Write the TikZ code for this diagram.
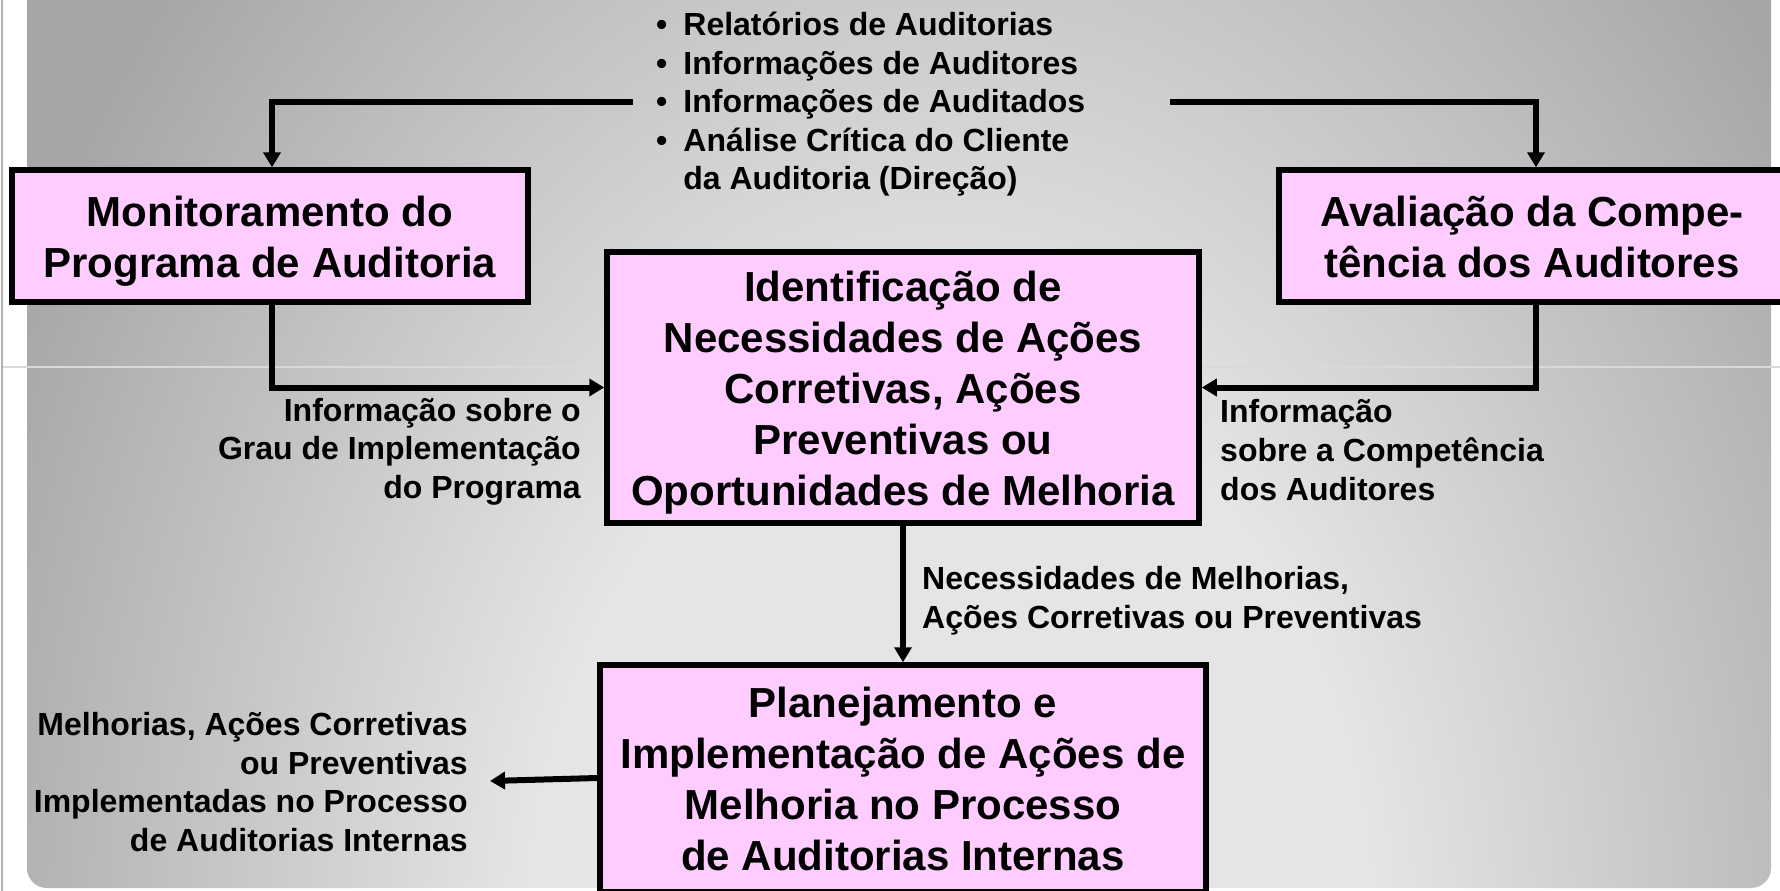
\documentclass[tikz,border=0pt]{standalone}
\usepackage{fontspec}
\setmainfont{Liberation Sans}
\usetikzlibrary{arrows.meta}
\definecolor{boxpink}{RGB}{255,204,255}
\definecolor{bgin}{gray}{0.9}
\definecolor{bgout}{gray}{0.65}
\pgfdeclareradialshading{bgglow}{\pgfpoint{0bp}{0bp}}{color(0bp)=(bgin); color(10bp)=(bgin); color(25bp)=(bgout); color(50bp)=(bgout)}
\newcommand{\hiStrut}{\rule{0pt}{41pt}}
\newcommand{\loStrut}{\rule[-10pt]{0pt}{10pt}}
\tikzset{
  box/.style={draw, line width=5.5pt, fill=boxpink, align=center, inner sep=0pt,
    font=\fontsize{42}{51}\selectfont\bfseries},
  lbl/.style={inner sep=0pt, font=\fontsize{32}{38.6}\selectfont\bfseries},
  arr/.style={line width=6pt, -{Triangle[length=15pt,width=17pt]}}
}
\begin{document}
\begin{tikzpicture}[x=1pt,y=-1pt]
    \useasboundingbox (0,0) rectangle (1780,891);
    \begin{scope}
    \clip [rounded corners=20pt] (27,-40) rectangle (1771,888);
    \shade [shading=bgglow] (-100,-500) rectangle (2000,2400);
    \end{scope}
    \draw [gray!60, line width=2.5pt] (2,0)--(2,891);
    \draw [white!85!black, line width=1.2pt] (3,367)--(1780,367);

    \node [box, minimum width=516pt, minimum height=132pt] (mon) at (270,236) {\hiStrut Monitoramento do\\Programa de Auditoria\loStrut};
    \node [box, minimum width=506pt, minimum height=132pt] (ava) at (1532,236) {\hiStrut Avaliação da Compe-\\tência dos Auditores\loStrut};
    \node [box, minimum width=592pt, minimum height=271pt] (ide) at (903,387.5) {\hiStrut Identificação de\\Necessidades de Ações\\Corretivas, Ações\\Preventivas ou\\Oportunidades de Melhoria\loStrut};
    \node [box, minimum width=606pt, minimum height=227pt] (pla) at (903,778.5) {\hiStrut Planejamento e\\Implementação de Ações de\\Melhoria no Processo\\de Auditorias Internas\loStrut};

    \node [lbl, anchor=west] (fontes) at (656,105) {\begin{tabular}{@{}l@{\hspace{16pt}}l@{}}
        \textbullet & Relatórios de Auditorias\\
        \textbullet & Informações de Auditores\\
        \textbullet & Informações de Auditados\\
        \textbullet & Análise Crítica do Cliente\\
        & da Auditoria (Direção)
    \end{tabular}};
    \node [lbl, anchor=east, align=right] (grau) at (581,451.5) {Informação sobre o\\Grau de Implementação\\do Programa};
    \node [lbl, anchor=west, align=left] (comp) at (1220,450) {Informação\\sobre a Competência\\dos Auditores};
    \node [lbl, anchor=west, align=left] (nec) at (922,601) {Necessidades de Melhorias,\\Ações Corretivas ou Preventivas};
    \node [lbl, anchor=east, align=right] (impl) at (468,782) {Melhorias, Ações Corretivas\\ou Preventivas\\Implementadas no Processo\\de Auditorias Internas};

    \coordinate (srcL) at (633,102);
    \coordinate (srcR) at (1170,102);
    \coordinate (outL) at (490,781);
    \draw [arr] (srcL) -| ([xshift=2pt]mon.north);
    \draw [arr] (srcR) -| ([xshift=4pt]ava.north);
    \draw [arr] ([xshift=2pt]mon.south) |- (ide.west);
    \draw [arr] ([xshift=4pt]ava.south) |- (ide.east);
    \draw [arr] (ide.south)--(pla.north);
    \draw [arr] (pla.west |- 0,778)--(outL);
\end{tikzpicture}
\end{document}
